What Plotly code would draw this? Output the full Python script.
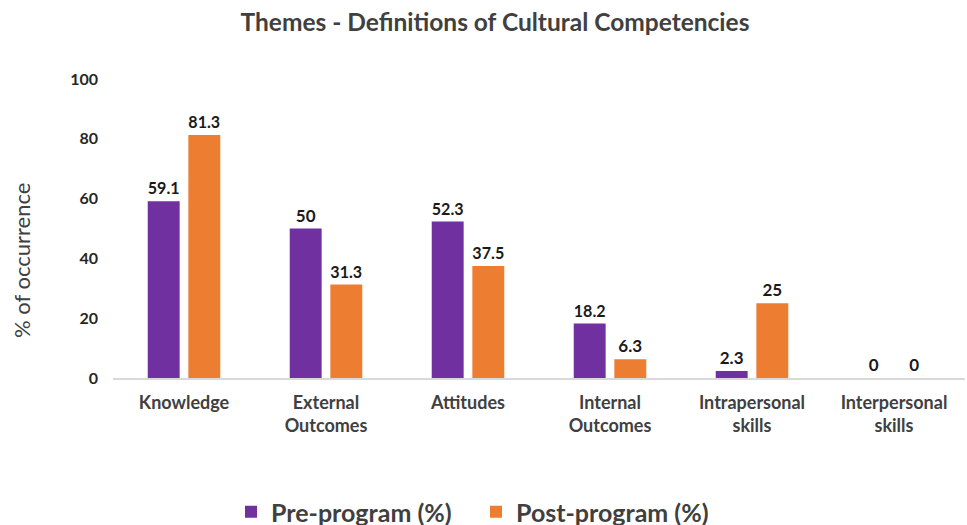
import plotly.graph_objects as go

categories = ["Knowledge", "External<br>Outcomes", "Attitudes", "Internal<br>Outcomes",
              "Intrapersonal<br>skills", "Interpersonal<br>skills"]
pre_program = [59.1, 50, 52.3, 18.2, 2.3, 0]
post_program = [81.3, 31.3, 37.5, 6.3, 25, 0]
y_ticks = [0, 20, 40, 60, 80, 100]

FONT = "Lato, 'Open Sans', sans-serif"
PURPLE = "#7030A0"
ORANGE = "#ED7D31"

L, T, B = 113, 79, 147
PLOT_H = 525 - T - B

fig = go.Figure()
for name, vals, color in [("Pre-program (%)", pre_program, PURPLE),
                          ("Post-program (%)", post_program, ORANGE)]:
    fig.add_trace(go.Bar(
        x=categories, y=vals, name=name,
        marker=dict(color=color, line=dict(width=0)),
        text=[f"{v:g}" for v in vals], textposition="outside",
        textfont=dict(family=FONT, size=17, color="#1a1a1a", weight="bold"),
        cliponaxis=False,
    ))

fig.update_layout(
    width=967, height=525,
    margin=dict(l=L, r=2, t=T, b=B),
    paper_bgcolor="white", plot_bgcolor="white",
    barmode="group", bargap=0.428, bargroupgap=0.214,
    title=dict(text="Themes - Definitions of Cultural Competencies",
               x=495 / 967, xref="container", xanchor="center", y=0.958, yanchor="middle",
               font=dict(family=FONT, size=24.5, color="#404040", weight="bold")),
    legend=dict(orientation="h", x=476 / 967, xref="container", xanchor="center",
                y=(525 - 512) / 525, yref="container", yanchor="middle",
                font=dict(family=FONT, size=25, color="#404040", weight="bold"),
                itemwidth=30, entrywidth=200, traceorder="normal"),
    xaxis=dict(showline=True, linecolor="#d9d9d9", linewidth=2, ticks="",
               automargin=False, ticklabelstandoff=7,
               tickfont=dict(family=FONT, size=18, color="#404040", weight="bold"),
               showgrid=False),
    yaxis=dict(range=[0, 100], tickvals=y_ticks, showgrid=False, zeroline=False,
               showline=False, ticks="", ticklabelstandoff=14, automargin=False,
               tickfont=dict(family=FONT, size=16, color="#262626", weight="bold")),
    annotations=[dict(text="% of occurrence", textangle=-90, showarrow=False,
                      xref="paper", yref="paper", x=(21 - L) / 852, y=(378 - 261) / PLOT_H,
                      xanchor="center", yanchor="middle",
                      font=dict(family=FONT, size=22, color="#404040"))],
)

fig.write_html("out.html")
